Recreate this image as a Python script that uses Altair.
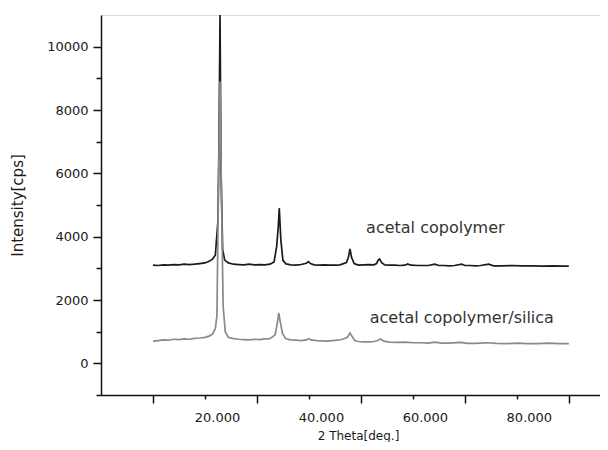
import altair as alt
import pandas as pd

# ---- data ----
theta_copolymer = [10, 11, 12, 13, 14, 15, 16, 17, 18, 19, 20, 20.8, 21.5, 22.0, 22.5, 22.7, 22.9, 23.1, 23.4,
                   23.8, 24.5, 25.5, 26.5, 27.5, 28.5, 29.5, 30.5, 31.5, 32.5, 33.3, 33.8, 34.1, 34.3, 34.6,
                   35.0, 35.6, 36.5, 37.5, 38.5, 39.5, 39.9, 40.3, 41, 42, 43, 44, 45, 46, 47.2, 47.6, 47.9,
                   48.2, 48.7, 49.5, 50.5, 51.5, 52.5, 53.0, 53.3, 53.6, 54.0, 54.6, 55.5, 56.5, 57.5, 58.5,
                   59.0, 59.6, 61, 62, 63, 64.2, 65, 66, 67, 68, 69.4, 70, 71, 72, 73, 74.6, 75.5, 77, 79, 81,
                   83, 85, 87, 89, 90]
intensity_copolymer = [3100, 3090, 3110, 3100, 3120, 3110, 3130, 3120, 3130, 3150, 3170, 3220, 3300, 3420, 4500,
                       7000, 11000, 6000, 3600, 3260, 3170, 3130, 3120, 3110, 3130, 3110, 3120, 3110, 3130,
                       3200, 3700, 4300, 4900, 3900, 3250, 3140, 3110, 3100, 3120, 3160, 3210, 3150, 3110,
                       3100, 3110, 3100, 3100, 3110, 3180, 3350, 3610, 3350, 3150, 3100, 3110, 3120, 3110,
                       3150, 3250, 3290, 3180, 3110, 3100, 3100, 3090, 3100, 3140, 3100, 3090, 3090, 3090,
                       3130, 3090, 3090, 3080, 3090, 3130, 3090, 3090, 3080, 3090, 3130, 3080, 3080, 3090,
                       3080, 3080, 3070, 3080, 3070, 3070]

theta_silica = [10, 11, 12, 13, 14, 15, 16, 17, 18, 19, 20, 20.8, 21.5, 22.0, 22.3, 22.6, 22.9, 23.2, 23.5, 23.9,
                24.5, 25.5, 26.5, 27.5, 28.5, 29.5, 30.5, 31.5, 32.5, 33.5, 33.9, 34.2, 34.5, 34.9, 35.5,
                36.5, 37.5, 38.5, 39.5, 40.0, 40.4, 41.5, 42.5, 43.5, 44.5, 45.5, 46.5, 47.4, 47.9, 48.3,
                48.8, 49.5, 50.5, 51.5, 52.5, 53.2, 53.8, 54.4, 55.5, 57, 58.5, 60, 61.5, 63, 64.2, 65.5,
                67, 69.2, 70.5, 72, 74.4, 76, 78, 80.2, 82, 84, 86.2, 88, 90]
intensity_silica = [700, 720, 740, 730, 760, 750, 770, 760, 790, 800, 820, 860, 930, 1100, 1500, 5500, 8900,
                    5000, 1800, 1000, 820, 780, 760, 750, 740, 760, 750, 770, 780, 900, 1250, 1590, 1300,
                    950, 780, 740, 730, 720, 740, 780, 740, 720, 710, 700, 720, 730, 760, 820, 955, 850, 720,
                    690, 680, 680, 690, 720, 770, 700, 670, 660, 670, 650, 650, 640, 670, 640, 640, 660, 630,
                    630, 650, 630, 620, 640, 620, 620, 640, 620, 620]

series_names = ["acetal copolymer", "acetal copolymer/silica"]
label_theta = [51.0, 51.7]
label_intensity = [4270, 1430]

y_major_ticks = [0, 2000, 4000, 6000, 8000, 10000]
y_minor_ticks = [-1000, 1000, 3000, 5000, 7000, 9000]
x_long_ticks = [10, 30, 50, 70, 90]
x_label_ticks = [20, 40, 60, 80]

FONT = "DejaVu Sans"

df_cop = pd.DataFrame({"theta": theta_copolymer, "intensity": intensity_copolymer})
df_sil = pd.DataFrame({"theta": theta_silica, "intensity": intensity_silica})
df_lab = pd.DataFrame({"theta": label_theta, "intensity": label_intensity, "name": series_names})

xscale = alt.Scale(domain=[0, 96], nice=False, zero=False)
yscale = alt.Scale(domain=[-1000, 11000], nice=False, zero=False)

line_cop = alt.Chart(df_cop).mark_line(color="#1a1a1a", strokeWidth=1.7, clip=True).encode(
    x=alt.X("theta:Q", scale=xscale,
            axis=alt.Axis(orient="bottom", values=x_long_ticks, tickSize=8, labels=False, title=None,
                          domainColor="#111", tickColor="#111", domainWidth=1.5, tickWidth=1.5, grid=False)),
    y=alt.Y("intensity:Q", scale=yscale,
            axis=alt.Axis(orient="left", values=y_major_ticks, tickSize=8, labelPadding=5, format="d",
                          labelFont=FONT, labelFontSize=13, labelColor="#1a1a1a",
                          title="Intensity[cps]", titleFont=FONT, titleFontSize=15, titleFontWeight="normal",
                          titleColor="#1a1a1a", titlePadding=21,
                          domainColor="#111", tickColor="#111", domainWidth=1.5, tickWidth=1.5, grid=False)),
)

line_sil = alt.Chart(df_sil).mark_line(color="#8a8a8a", strokeWidth=1.7, clip=True).encode(
    x=alt.X("theta:Q", scale=xscale,
            axis=alt.Axis(orient="bottom", values=x_label_ticks, tickSize=4, format=".3f", labelOffset=12,
                          labelPadding=12, labelFont=FONT, labelFontSize=13, labelColor="#1a1a1a",
                          title="2 Theta[deg.]", titleFont=FONT, titleFontSize=12, titleFontWeight="normal",
                          titleColor="#1a1a1a", titlePadding=6, titleX=257,
                          domain=False, tickColor="#111", tickWidth=1.5, grid=False)),
    y=alt.Y("intensity:Q", scale=yscale,
            axis=alt.Axis(orient="left", values=y_minor_ticks, tickSize=5, labels=False, title=None,
                          domain=False, tickColor="#111", tickWidth=1.5, grid=False)),
)

labels = alt.Chart(df_lab).mark_text(align="left", baseline="middle", font=FONT, fontSize=16,
                                     color="#333").encode(
    x=alt.X("theta:Q", scale=xscale, axis=None),
    y=alt.Y("intensity:Q", scale=yscale, axis=None),
    text="name:N",
)

chart = alt.layer(line_cop, line_sil, labels).resolve_axis(
    x="independent", y="independent"
).properties(
    width=499, height=380,
    autosize=alt.AutoSizeParams(type="none"),
    padding={"left": 93, "top": 7, "right": 0, "bottom": 47},
).configure_view(stroke=None).configure(background="white")

chart.save("out.html", embed_options={"renderer": "svg", "actions": False})
